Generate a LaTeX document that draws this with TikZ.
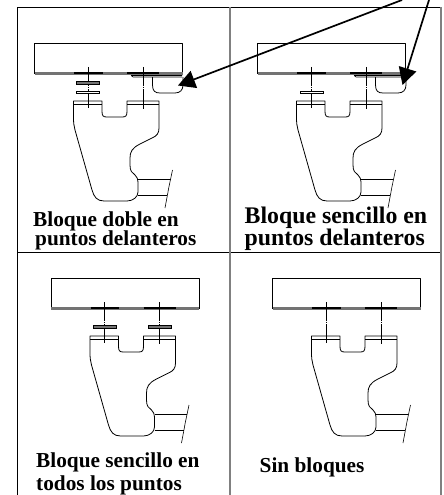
\documentclass[tikz,border=0pt]{standalone}
\usepackage{fontspec}
\setmainfont{Liberation Serif}
\usetikzlibrary{arrows.meta}
\tikzset{
  x=1pt,y=-1pt,
  part/.style={draw=black,line width=0.8pt,line join=round},
  gridblack/.style={draw=black,line width=0.9pt},
  gridgrey/.style={draw=black!50,line width=1.8pt},
  bolt/.style={draw=black,line width=0.6pt},
  shimthick/.style={draw=black,line width=0.5pt,fill=black!55},
  shimthin/.style={draw=black,line width=0.7pt,fill=white},
  label/.style={anchor=base west,inner sep=0pt,font=\bfseries\fontsize{21.3}{24}\selectfont},
  labelbig/.style={anchor=base west,inner sep=0pt,font=\bfseries\fontsize{23.8}{26}\selectfont},
  pointer/.style={draw=black,line width=1.7pt,-{Triangle[length=17pt,width=18pt]}},
  pics/bracket/.style={code={
    % upper block
    \draw[part] (34.5,73.5) -- (34.5,43.5) -- (182.5,43.5) -- (182.5,73.5);
    \draw[draw=black!55,line width=2.6pt] (34.5,73.3) -- (182.5,73.3);
    \draw[draw=black,line width=1.8pt] (74,73) -- (102.5,73) (127,73) -- (159,73);
    % bolts
    \draw[bolt] (88,67) -- (88,85.5) (88,86.7) -- (88,87.5) (88,89) -- (88,108)
                (143,67) -- (143,85.5) (143,86.7) -- (143,87.5) (143,89) -- (143,109);
    % bracket
    \draw[part] (73.5,101) -- (102,101) -- (102,111) .. controls (102,116) and (103,117) .. (107,117)
      -- (122,117) .. controls (126,117) and (127,116) .. (127,111) -- (127,101) -- (159,101)
      -- (159,128) .. controls (159,133) and (157,136) .. (152,138)
      -- (140,144) .. controls (132,148) and (130,152) .. (130,158)
      -- (130,165) .. controls (130,171) and (132,173) .. (135,175)
      .. controls (137,177) and (138,179) .. (138,182)
      -- (138,192) .. controls (138,197) and (133,201) .. (127,201)
      -- (104,201) .. controls (97,201) and (94,197) .. (92,190)
      -- (75,130) .. controls (74,126) and (73.5,123) .. (73.5,118) -- cycle;
    \draw[part,line width=0.6pt] (73.5,104) -- (102,104) (127,104) -- (159,104);
    % frame stub
    \draw[part] (138,179) -- (170,179) (138,195) -- (167,195);
    \draw[bolt] (172.5,170) -- (168.5,189) -- (168,192) -- (165,208);
  }},
}
\begin{document}
\begin{tikzpicture}
\useasboundingbox (0,0) rectangle (444,495);
% frame
\draw[gridblack] (17.5,495) -- (17.5,7.5) -- (441,7.5);
\draw[gridblack] (17.5,252) -- (441,252);
\draw[gridgrey] (441,7) -- (441,495);
\draw[gridgrey] (230,7.5) -- (230,495);
% panels
\pic (pa) at (0,0) {bracket};
\pic (pb) at (223,0) {bracket};
\pic (pc) at (16.5,235) {bracket};
\pic (pd) at (238,235) {bracket};
% panel 1 shims + clip
\draw[shimthick] (76.7,81.7) rectangle (99.3,84.3);
\draw[shimthin] (76.7,91) rectangle (99.3,93.7);
\draw[part,line width=0.6pt] (131,75.5) -- (182,75.5) (131,75.5) -- (133,77) -- (182,77);
\draw[part] (152.5,77) -- (152.5,85) .. controls (152.5,91) and (155,93) .. (160,93)
  -- (175,93) .. controls (180,93) and (183,90) .. (183,85) -- (183,77);
% panel 2 shims + clip
\draw[shimthin] (300,91) rectangle (323.3,93.7);
\draw[part,line width=0.6pt] (354,75.5) -- (405,75.5) (354,75.5) -- (356,77) -- (405,77);
\draw[part] (375.5,77) -- (375.5,85) .. controls (375.5,91) and (378,93) .. (383,93)
  -- (398,93) .. controls (403,93) and (406,90) .. (406,85) -- (406,77);
% panel 3 shims
\draw[shimthick] (93.3,325.5) rectangle (116.7,328);
\draw[shimthick] (148.3,325.5) rectangle (171.7,328);
% arrows
\coordinate (tipa) at (178,85.5);
\coordinate (tipb) at (402.5,85);
\coordinate (starta) at (402,0);
\coordinate (startb) at (429,0);
\draw[pointer] (starta) -- (tipa);
\draw[pointer] (startb) -- (tipb);
% labels
\node[label] (la) at (33,226) {Bloque doble en};
\node[label] (lb) at (35,245.5) {puntos delanteros};
\node[labelbig] (lc) at (244.5,223) {Bloque sencillo en};
\node[labelbig] (ld) at (244.5,245) {puntos delanteros};
\node[label] (le) at (36,467) {Bloque sencillo en};
\node[label] (lf) at (36,490) {todos los puntos};
\node[label] (lg) at (259.5,472) {Sin bloques};
\end{tikzpicture}
\end{document}
